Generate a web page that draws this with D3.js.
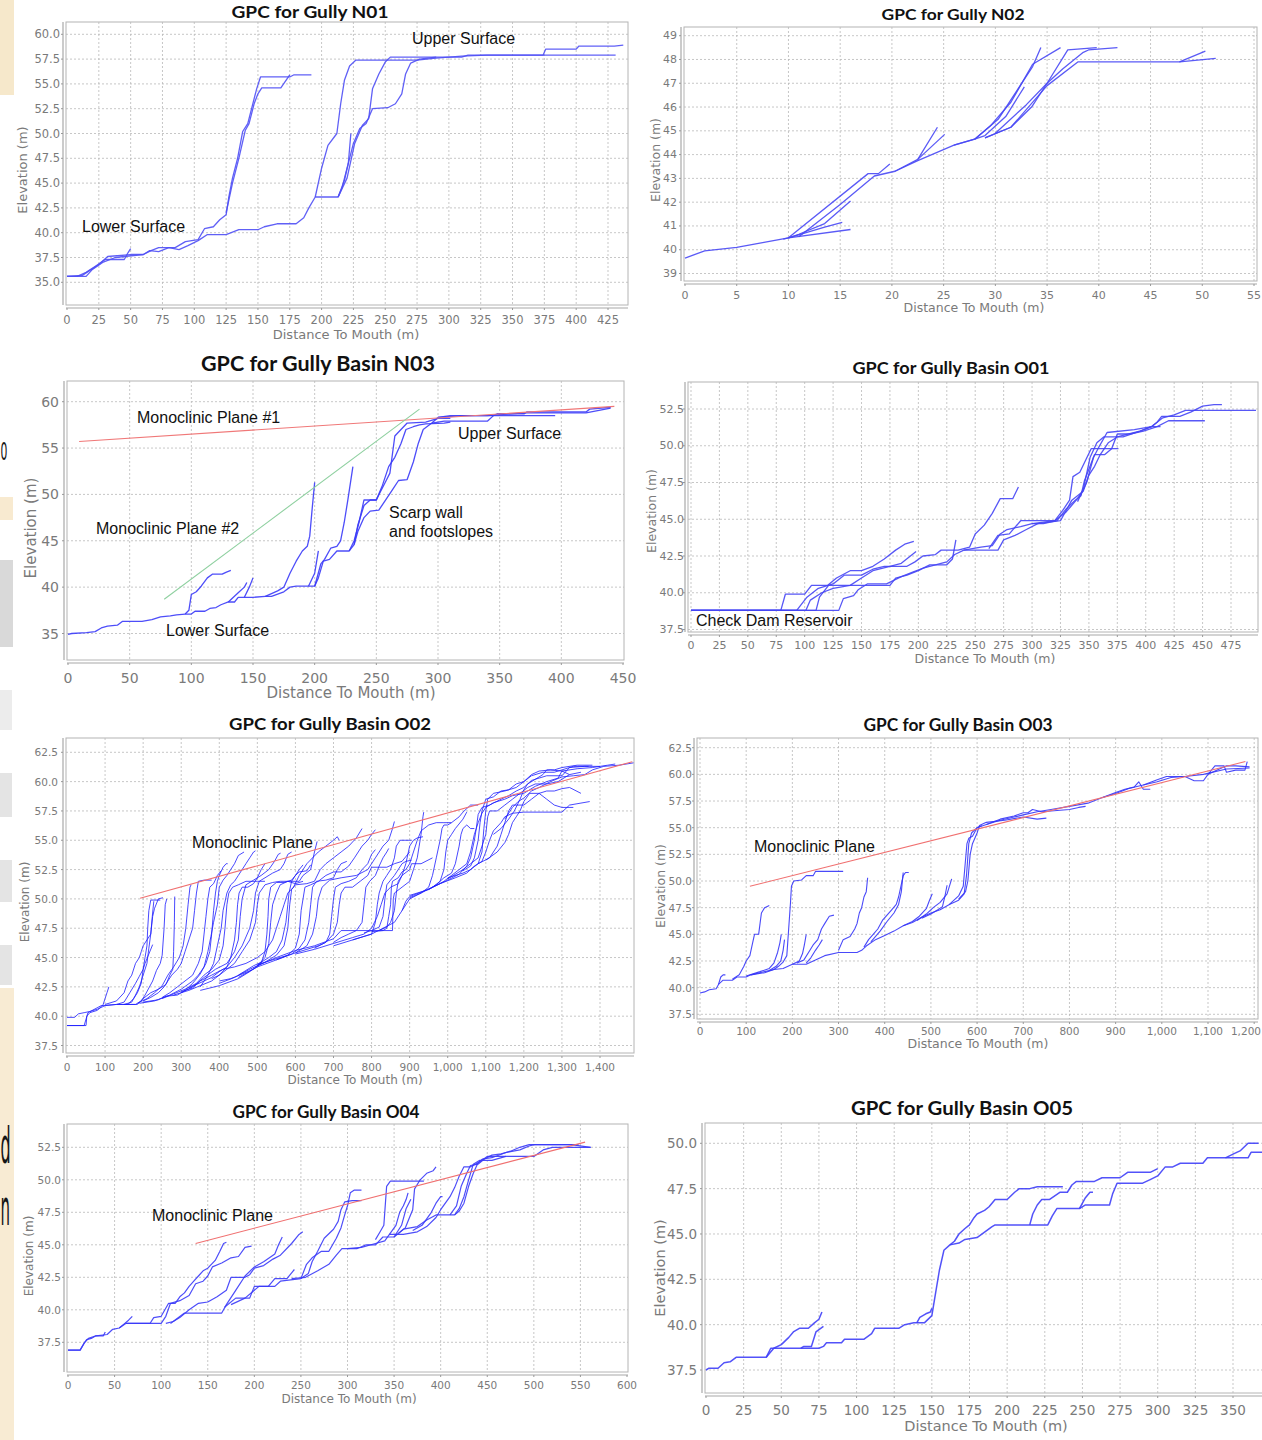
<!DOCTYPE html>
<html><head><meta charset="utf-8">
<script src="https://cdn.jsdelivr.net/npm/d3@7"></script>
<style>body{margin:0;background:#fff}svg{display:block}</style>
</head><body>
<svg id="c" width="1262" height="1440"></svg>
<script>
// ---------------- DATA ----------------
// Gully N01
const n01XTicks = [0,25,50,75,100,125,150,175,200,225,250,275,300,325,350,375,400,425];
const n01YTicks = [35,37.5,40,42.5,45,47.5,50,52.5,55,57.5,60];
const n01Series = [
 [[0,35.6],[8,35.6],[15,36.0],[22,36.6],[30,37.3],[45,37.3],[48,38.0],[50,38.4]],
 [[0,35.6],[12,35.7],[18,36.2],[25,36.8],[32,37.6],[50,37.8],[60,37.8],[66,38.2],[72,38.5],[85,38.5],[93,39.1],[103,39.3],[108,40.4],[115,40.6],[120,41.3],[125,41.8],[127,43.5],[130,45.5],[134,47.5],[138,50.2],[142,51.0],[145,52.5],[149,54.5],[152,55.7],[175,55.7],[178,55.9],[192,55.9]],
 [[125,42.0],[130,45.0],[135,47.5],[140,50.3],[143,51.0],[147,53.0],[150,54.0],[153,54.6],[168,54.6],[175,55.9]],
 [[0,35.6],[15,35.6],[20,36.3],[28,37.0],[38,37.5],[45,37.6],[60,37.8],[65,38.2],[72,38.1],[80,38.5],[88,38.3],[95,38.7],[103,39.2],[110,39.8],[125,39.8],[135,40.3],[150,40.3],[155,40.6],[165,40.9],[180,40.9],[186,41.5],[190,42.5],[195,43.6],[213,43.6],[216,44.5],[219,46.0],[222,47.5],[225,49.0],[230,50.5],[235,51.0],[240,52.5],[252,52.6],[258,53.0],[263,54.0],[266,56.0],[270,57.1],[277,57.5],[290,57.7],[310,57.7],[315,57.9],[330,57.9],[375,57.9],[400,57.9],[431,57.9]],
 [[195,43.6],[200,46.5],[205,48.8],[212,50.0],[215,53.0],[218,55.4],[222,56.8],[227,57.4],[255,57.4],[275,57.4],[290,57.6],[310,57.8],[330,57.9],[374,57.9],[376,58.5],[400,58.5],[402,58.8],[430,58.8],[437,58.9]],
 [[213,43.6],[218,45.3],[221,47.0],[223,50.0]],
 [[213,43.6],[220,45.5],[226,49.0],[232,50.8],[237,51.5],[240,54.5],[245,56.0],[250,57.2],[254,57.7],[265,57.7],[290,57.7]]
];

// Gully N02
const n02XTicks = [0,5,10,15,20,25,30,35,40,45,50,55];
const n02YTicks = [39,40,41,42,43,44,45,46,47,48,49];
const n02Series = [
 [[0,39.65],[1.9,39.95],[5,40.1],[7.5,40.3],[10,40.5],[16,40.85]],
 [[9.5,40.45],[10,40.5],[13.5,40.95],[15.2,41.15]],
 [[10,40.5],[11,40.65],[13.5,41.1],[16,42.05]],
 [[10,40.5],[17.7,43.2],[18.7,43.2],[19.8,43.6]],
 [[11,40.55],[15,41.9],[18.3,43.1],[20.3,43.3],[22.5,43.8],[24.4,45.15]],
 [[20.3,43.3],[22.5,43.75],[26,44.4],[28,44.65],[30.3,45.5],[31.2,46.1],[33.6,47.7],[34.4,48.5]],
 [[22.5,43.8],[25.1,44.85]],
 [[26,44.4],[28,44.65],[29,44.8],[31,45.6],[32.8,46.85]],
 [[28,44.65],[29.5,45.2],[31.5,46.2],[33.6,47.8],[36.3,48.5]],
 [[29,44.7],[31.5,45.15],[33.5,46.0],[35,47.0],[37,48.4],[39.8,48.5]],
 [[30,44.9],[33,46.1],[35,47.0],[36.5,47.6],[38.5,48.3],[39,48.4],[41.8,48.5]],
 [[29,44.7],[31.5,45.15],[35,46.9],[38,47.9],[47.8,47.9],[50.3,48.35]],
 [[47.8,47.9],[51.3,48.05]]
];

// Gully Basin N03
const n03XTicks = [0,50,100,150,200,250,300,350,400,450];
const n03YTicks = [35,40,45,50,55,60];
const n03Series = [
 [[0,34.9],[3,35.0],[15,35.1],[22,35.2],[27,35.6],[32,35.8],[40,35.9],[44,36.3],[60,36.3],[68,36.5],[75,36.8],[83,36.9],[88,37.0],[95,37.1],[100,37.1],[103,37.4],[111,37.4],[115,37.7],[120,37.8],[124,38.1],[130,38.4],[135,38.4],[138,38.9],[150,38.9],[160,39.0],[165,39.0],[175,39.5],[180,40.0],[185,40.1],[200,40.1],[203,41.0],[207,42.8],[212,43.0],[218,43.9],[228,43.9],[232,44.6],[235,46.7],[240,48.8],[245,49.4],[250,49.4],[253,50.2],[258,51.5],[261,52.3],[265,56.3],[270,57.0],[275,57.7],[290,57.8],[300,58.2],[310,58.2]],
 [[95,37.1],[98,37.5],[100,39.2],[104,39.5],[108,40.1],[113,41.0],[117,41.4],[125,41.4],[128,41.6],[132,41.8]],
 [[130,38.4],[138,39.4],[143,40.0],[145,40.5]],
 [[143,38.9],[147,40.0],[150,41.0]],
 [[160,39.0],[170,39.6],[175,40.0],[180,41.5],[185,42.8],[190,43.9],[194,44.4],[196,45.5],[198,48.5],[200,51.3]],
 [[195,40.1],[200,41.5],[203,43.9]],
 [[200,40.1],[205,42.5],[208,43.0],[213,44.2],[218,44.4],[221,45.0],[224,47.0],[227,49.5],[231,53.0]],
 [[228,43.9],[232,45.0],[236,47.0],[240,49.4],[250,49.4],[255,51.0],[260,53.0],[265,54.0],[270,55.5],[274,57.0],[280,57.3],[285,57.5],[290,57.6],[305,57.7],[310,57.8]],
 [[232,44.6],[235,46.0],[240,47.5],[245,48.2],[252,48.3],[258,49.5],[263,50.5],[268,51.5],[275,51.6],[280,53.5],[284,55.5],[288,57.0],[295,57.7],[300,58.3],[320,58.5],[345,58.5],[348,58.7],[370,58.7],[372,58.9],[420,58.9],[423,59.2],[440,59.4]],
 [[295,57.7],[305,57.9],[330,57.9],[340,57.9],[345,58.5],[395,58.5]],
 [[300,58.3],[310,58.5],[340,58.5],[350,58.6],[370,58.8],[420,58.8],[440,59.3]]
];
const n03Plane1 = [[9,55.7],[443,59.5]];
const n03Plane2 = [[78,38.7],[285,59.2]];

// Gully Basin O01
const o01XTicks = [0,25,50,75,100,125,150,175,200,225,250,275,300,325,350,375,400,425,450,475];
const o01YTicks = [37.5,40,42.5,45,47.5,50,52.5];
const o01Series = [
 [[0,38.8],[79,38.8],[83,39.9],[100,39.9],[106,40.5],[120,40.5],[128,41.0],[140,41.5],[150,41.5],[160,41.8],[170,42.3],[180,42.9],[188,43.3],[196,43.5]],
 [[0,38.8],[93,38.8],[102,39.7],[112,40.3],[125,40.6],[135,41.2],[150,41.2],[160,41.6],[170,41.8],[190,41.8],[197,42.1],[204,42.5],[215,42.6],[220,42.9],[235,42.9],[245,43.1],[250,44.0],[258,44.6],[265,45.4],[272,46.4],[283,46.4],[288,47.2]],
 [[0,38.8],[101,38.8],[105,39.5],[115,40.0],[125,40.3],[140,40.5],[150,41.0],[160,41.5],[175,41.8],[185,42.0],[198,42.8]],
 [[0,38.8],[110,38.8],[113,39.7],[121,40.5],[175,40.5],[180,41.0],[190,41.2],[200,41.5],[210,41.9],[225,41.9],[230,42.3],[233,43.6]],
 [[0,38.8],[130,38.8],[134,39.6],[143,39.8],[147,40.2],[155,40.6],[172,40.6],[185,41.1],[195,41.4],[205,41.7],[215,41.9],[225,42.1],[232,42.6],[240,42.9],[270,42.9],[275,43.6],[285,43.9],[295,44.3],[305,44.7],[325,44.9],[330,45.6],[335,46.3],[340,46.6],[345,46.9],[350,48.0],[355,48.6],[360,49.4],[367,50.2],[375,50.6],[385,50.8],[395,51.0],[405,51.3],[413,51.3]],
 [[240,42.9],[255,43.1],[265,43.2],[272,44.0],[278,44.3],[290,44.5],[300,44.7],[310,44.7],[322,44.9],[330,45.7],[338,46.3],[343,46.6],[346,47.6],[351,48.6],[355,49.4],[364,49.4],[370,49.8],[375,50.8],[386,50.8],[398,51.0],[410,51.3],[420,51.7],[452,51.7]],
 [[262,43.0],[270,43.9],[280,44.0],[290,44.9],[320,44.9],[327,45.6],[333,46.3],[336,47.9],[342,48.2],[347,49.0],[352,49.8],[362,49.8],[376,49.8]],
 [[300,44.7],[320,44.9],[330,45.5],[340,46.4],[345,47.0],[351,49.2],[357,50.2],[363,50.6],[380,50.6],[395,51.0],[405,51.3],[410,51.6],[414,52.0],[430,52.0],[440,52.3],[450,52.7],[460,52.8],[467,52.8]],
 [[340,46.2],[348,47.5],[354,49.2],[358,49.8],[366,50.9],[390,51.1],[405,51.3],[415,51.9],[425,52.1],[435,52.4],[497,52.4]]
];

// Gully Basin O02
const o02XTicks = [0,100,200,300,400,500,600,700,800,900,1000,1100,1200,1300,1400];
const o02YTicks = [37.5,40,42.5,45,47.5,50,52.5,55,57.5,60,62.5];
const o02Series = [
 [[0,39.2],[50,39.2],[52,40.0],[60,40.3],[80,40.5],[95,41.0],[100,41.5],[105,42.0],[110,42.5]],
 [[0,39.9],[20,39.9],[30,40.2],[45,40.3],[60,40.4],[80,40.6],[100,40.9],[130,41.0],[150,41.2],[165,42.0],[180,42.8],[190,43.4],[200,44.0],[205,44.5],[215,45.3],[225,46.1]],
 [[0,39.2],[45,39.2],[55,40.3],[90,40.9],[130,41.0],[180,41.0],[195,41.3],[205,41.8],[215,42.4],[225,43.0],[235,43.9],[245,44.5],[250,45.2],[255,47.5],[258,49.5],[262,50.0]],
 [[150,41.0],[185,41.0],[200,41.5],[220,42.0],[240,42.3],[260,42.7],[270,43.5],[278,44.0],[280,45.5],[282,48.0],[283,50.2]],
 [[185,41.1],[210,41.5],[230,42.0],[250,42.6],[265,43.5],[280,44.2],[295,45.0],[305,46.0],[312,47.5],[318,49.5],[323,51.0],[326,51.2]],
 [[200,41.2],[240,41.4],[260,41.7],[290,41.8],[310,42.2],[330,42.8],[350,43.6],[365,44.5],[375,45.5],[380,47.0],[385,49.0],[390,50.5],[395,51.5],[400,52.0],[410,52.7],[418,53.0],[422,53.0]],
 [[190,41.1],[230,41.3],[270,41.8],[300,42.3],[330,43.0],[345,43.5],[360,44.2],[370,45.5],[378,46.8],[385,48.0],[395,49.5],[400,51.0],[410,51.6],[420,52.0],[430,52.5],[440,53.0],[450,53.7],[465,54.0]],
 [[250,41.5],[280,41.9],[310,42.3],[340,42.8],[360,43.5],[380,44.0],[400,44.8],[410,46.0],[415,47.5],[420,49.5],[425,50.5],[435,51.0],[450,51.2],[470,51.5],[500,51.5],[520,51.5]],
 [[300,42.0],[330,42.5],[360,43.3],[390,44.0],[420,44.5],[440,45.5],[450,46.5],[455,48.5],[460,50.0],[470,51.2],[490,51.6],[510,52.0],[530,52.5],[545,53.2],[555,53.8],[561,53.9]],
 [[350,42.2],[400,42.6],[450,43.2],[480,43.8],[500,44.3],[520,45.0],[530,46.2],[535,48.0],[540,49.5],[550,50.5],[560,51.2],[580,51.5],[610,51.5],[620,52.0],[640,52.5],[650,54.0],[657,54.9]],
 [[400,42.8],[440,43.3],[480,44.0],[520,44.6],[550,45.2],[570,46.0],[580,47.5],[585,49.5],[590,50.8],[600,51.2],[630,51.3],[650,51.5],[665,52.5],[680,53.0],[700,53.5],[720,54.0],[740,54.5],[760,55.2],[775,56.0]],
 [[450,43.3],[500,44.2],[550,44.8],[600,45.4],[630,46.0],[645,47.0],[655,48.5],[660,50.0],[670,51.0],[690,51.6],[720,51.8],[760,52.0],[790,52.5],[810,53.5],[830,54.5],[845,55.0],[855,56.0],[860,56.6]],
 [[500,44.3],[550,45.0],[600,45.6],[650,46.0],[700,46.6],[720,47.3],[760,47.3],[800,47.3],[820,47.3],[855,47.3],[857,50.0],[860,50.5],[880,51.0],[900,51.5],[910,52.5],[920,53.5],[925,54.5],[930,55.5],[935,57.0],[937,57.4]],
 [[600,45.3],[650,45.7],[700,46.2],[750,46.7],[780,47.0],[800,47.5],[815,48.5],[825,49.5],[835,50.5],[850,51.0],[870,51.3],[880,52.0],[900,52.5],[905,53.0],[930,53.0],[960,53.5]],
 [[700,46.0],[750,46.5],[800,47.0],[830,47.5],[860,48.0],[880,49.0],[890,49.8],[900,50.2],[940,50.7],[980,51.3],[1020,51.8],[1050,52.2],[1070,52.8],[1090,53.2],[1100,54.0],[1110,55.0],[1120,55.8],[1140,56.5],[1150,57.0],[1170,57.3],[1200,57.4],[1250,57.4],[1300,57.4],[1320,58.0],[1373,58.3]],
 [[900,50.3],[950,50.8],[990,51.5],[1010,52.0],[1030,52.5],[1050,53.0],[1060,54.0],[1070,55.5],[1080,56.5],[1090,57.3],[1100,57.8],[1120,58.2],[1150,58.5],[1170,58.8],[1200,59.0],[1230,59.6],[1260,60.0],[1290,60.3],[1300,60.9],[1340,61.1],[1380,61.2],[1420,61.4],[1440,61.5]],
 [[960,51.0],[1000,51.6],[1030,52.1],[1050,52.8],[1060,53.5],[1070,55.0],[1075,56.0],[1080,57.2],[1090,57.8],[1110,58.0],[1140,58.5],[1160,58.8],[1180,59.2],[1200,59.5],[1220,60.1],[1240,60.3],[1260,60.5],[1300,60.5],[1320,61.2],[1360,61.3],[1400,61.3]],
 [[1000,51.7],[1040,52.5],[1060,53.0],[1080,53.5],[1090,54.5],[1100,55.5],[1105,57.0],[1110,57.5],[1130,57.5],[1150,58.0],[1170,58.5],[1190,59.0],[1210,59.5],[1230,59.8],[1260,59.8],[1290,60.0],[1320,60.6],[1350,60.8]],
 [[1080,53.0],[1110,53.5],[1130,54.5],[1140,55.5],[1150,56.5],[1160,57.5],[1170,58.0],[1200,58.0],[1220,58.5],[1240,59.0],[1260,59.2],[1280,59.2],[1300,59.4],[1320,59.5],[1350,59.0]],
 [[1150,56.8],[1170,57.8],[1185,58.3],[1200,58.6],[1220,59.2],[1240,59.5],[1270,60.0],[1300,60.4],[1330,60.5],[1360,60.6],[1380,61.0],[1410,61.3],[1450,61.4],[1488,61.6]],
 [[550,44.8],[580,45.2],[600,45.8],[610,47.0],[615,49.0],[620,50.0],[625,51.0],[640,51.2],[660,51.5],[680,52.0],[700,52.3],[720,52.3],[740,52.8],[755,53.5],[765,54.0],[775,54.5],[790,55.0],[800,55.5],[810,55.9]],
 [[650,45.8],[680,46.3],[700,47.0],[710,48.0],[715,49.5],[720,50.5],[730,51.0],[750,51.0],[770,51.5],[790,52.0],[800,52.7],[820,52.7],[840,52.7],[860,53.0],[880,53.2],[900,54.0]],
 [[750,46.5],[780,46.8],[800,47.0],[810,48.0],[815,49.5],[820,50.5],[830,51.5],[840,52.0],[850,52.5],[860,53.5],[865,54.5],[875,55.0],[905,55.0]],
 [[800,47.2],[830,47.3],[840,47.5],[845,48.5],[850,49.5],[852,51.0],[855,51.5],[870,51.8],[880,52.3],[890,52.5],[900,53.0],[910,54.0],[920,55.0],[930,55.8],[950,56.3],[970,56.5],[990,56.5],[1010,56.5]],
 [[880,49.0],[900,50.0],[930,50.5],[960,51.0],[980,51.5],[990,52.5],[995,54.0],[1000,55.0],[1010,55.5],[1020,56.0],[1040,56.8],[1050,57.4]],
 [[280,41.8],[320,42.2],[350,42.6],[380,43.0],[400,43.5],[420,44.0],[440,44.5],[460,45.5],[480,46.5],[495,48.0],[500,49.5],[505,50.5],[520,51.2],[540,51.4],[560,51.5],[580,51.5],[600,51.3],[620,51.5]],
 [[300,42.1],[330,42.4],[350,43.0],[380,43.5],[410,44.0],[440,44.2],[470,44.5],[500,45.0],[520,45.5],[540,46.5],[550,47.5],[560,48.5],[570,49.5],[580,50.5],[595,51.0],[610,52.0],[630,53.0],[645,53.5],[660,54.0],[680,54.5],[700,55.0],[710,55.3],[715,55.0]],
 [[100,41.0],[130,41.3],[150,42.0],[160,43.0],[170,43.5],[180,44.5],[190,45.0],[195,45.5],[200,46.0],[210,46.5],[220,47.0],[225,48.5],[230,49.2],[240,50.0],[252,50.1]],
 [[350,42.5],[370,43.5],[385,44.5],[395,46.0],[405,47.5],[410,49.0],[420,50.5],[430,51.2],[440,51.5],[450,52.0],[460,52.5],[470,53.0],[480,53.5],[490,54.0],[495,54.1]],
 [[380,43.2],[400,43.5],[420,44.2],[440,45.0],[460,46.0],[480,47.5],[490,49.0],[495,50.5],[505,51.5],[520,51.8],[540,52.2],[560,52.5],[570,53.0],[580,53.8],[590,54.0]],
 [[1000,51.8],[1040,52.2],[1060,52.5],[1080,53.0],[1090,54.0],[1095,56.0],[1100,57.5],[1105,58.5],[1120,59.0],[1150,59.2],[1180,59.5],[1200,60.0],[1220,60.5],[1250,60.8],[1280,60.8],[1300,61.0],[1330,61.3],[1370,61.3]],
 [[1100,53.3],[1130,54.0],[1150,54.8],[1160,55.5],[1170,56.5],[1180,57.0],[1190,57.5],[1200,58.3],[1215,59.0],[1240,59.0],[1260,58.5],[1280,58.0],[1300,57.8],[1330,57.8]],
 [[900,50.1],[930,50.5],[950,51.0],[960,52.0],[970,53.5],[980,55.0],[985,56.0],[990,56.3],[1000,56.3],[1010,56.5],[1030,57.0],[1040,57.4],[1060,58.0],[1080,58.0]],
 [[150,41.0],[170,41.2],[180,41.8],[190,42.5],[200,43.5],[210,44.5],[215,45.8],[220,47.0],[224,48.5],[228,49.8]],
 [[200,41.3],[220,41.6],[240,42.0],[255,42.5],[265,43.0],[275,43.5],[290,44.0],[300,44.5],[310,45.5],[320,46.5],[330,47.5],[335,49.0],[340,50.5],[345,51.5],[360,51.6],[380,51.6]],
 [[250,41.6],[270,42.0],[290,42.5],[310,43.0],[330,43.5],[345,44.5],[355,45.5],[360,47.0],[365,48.5],[370,50.0],[375,51.0],[385,51.3],[395,52.0],[405,52.4]],
 [[320,42.4],[340,42.7],[360,43.0],[380,43.3],[400,43.8],[420,44.2],[430,45.0],[440,46.5],[445,48.0],[448,49.5],[452,50.5],[460,51.0],[475,51.0],[490,51.3],[500,51.8],[510,52.5],[520,53.0]],
 [[400,43.0],[430,43.2],[460,43.6],[490,44.0],[510,44.5],[520,45.5],[525,47.0],[528,48.5],[530,50.0],[535,51.0],[550,51.4],[570,51.4],[590,51.6],[600,52.0],[610,52.5],[620,52.9]],
 [[450,43.5],[470,43.9],[490,44.3],[510,44.6],[530,45.0],[550,45.5],[565,46.5],[575,48.0],[580,49.5],[583,50.5],[590,51.5],[600,52.0],[610,52.3],[630,52.4],[640,52.9]],
 [[500,44.4],[530,44.7],[560,45.0],[590,45.3],[610,45.8],[625,46.5],[635,48.0],[640,49.5],[645,51.0],[655,51.5],[680,51.6],[700,51.8],[710,52.5],[720,53.0],[735,53.2]],
 [[600,45.4],[630,45.7],[660,46.0],[680,46.3],[690,47.0],[695,48.5],[700,50.0],[705,51.0],[720,51.3],[740,51.5],[760,51.8],[775,52.5],[790,53.0],[800,53.8],[810,54.2]],
 [[700,46.3],[720,46.7],[740,47.0],[760,47.3],[775,48.0],[780,49.5],[785,51.0],[795,51.5],[810,52.0],[820,52.8],[830,53.5],[840,54.0],[845,54.3]],
 [[780,47.1],[800,47.3],[820,47.6],[830,48.5],[835,50.0],[840,51.2],[850,51.6],[860,52.0],[870,52.5],[880,53.0],[890,53.2],[905,53.3]],
 [[820,47.3],[840,47.6],[850,48.0],[860,49.0],[865,50.5],[870,51.5],[880,52.0],[890,53.0],[900,54.5],[910,55.0],[920,55.2],[935,55.3]],
 [[950,50.8],[970,51.2],[990,51.8],[1010,52.2],[1020,53.0],[1030,54.5],[1035,55.5],[1040,56.0],[1050,56.3],[1060,56.0],[1070,56.0]],
 [[1040,52.4],[1060,52.8],[1070,53.5],[1080,55.0],[1085,56.5],[1090,57.5],[1095,58.0],[1100,58.5],[1120,58.7],[1140,59.2],[1160,59.3],[1180,59.8],[1200,60.0],[1220,60.6],[1240,60.9],[1270,61.0],[1300,60.9],[1320,60.6]],
 [[1120,55.5],[1140,56.0],[1160,56.8],[1175,57.5],[1190,58.5],[1200,59.3],[1210,59.8],[1230,60.2],[1250,60.6],[1260,61.0],[1280,61.0],[1300,61.2],[1340,61.4],[1380,61.4]],
 [[130,41.0],[160,41.0],[175,41.5],[185,42.0],[195,42.8],[200,44.0],[205,45.0],[210,46.0],[212,47.5],[215,49.0],[220,49.9],[245,49.9]]
];
const o02Plane = [[192,50.05],[1485,61.7]];

// Gully Basin O03
const o03XTicks = [0,100,200,300,400,500,600,700,800,900,1000,1100,1200];
const o03YTicks = [37.5,40,42.5,45,47.5,50,52.5,55,57.5,60,62.5];
const o03Series = [
 [[0,39.5],[10,39.6],[20,39.8],[35,39.9],[40,40.3],[50,40.7],[70,40.7],[80,41.0],[100,41.0],[110,41.2],[140,41.4],[160,41.7],[180,41.8],[200,42.2],[230,42.2],[250,42.6],[270,43.0],[300,43.3],[340,43.3],[350,43.5],[360,43.9],[380,44.5],[400,44.9],[420,45.3],[440,45.8],[460,46.1],[480,46.6],[500,47.0],[520,47.3],[540,47.8],[560,48.2],[572,48.8],[577,50.5],[582,53.5],[588,54.5],[600,55.0],[620,55.3],[650,55.7],[680,56.0],[700,56.2],[730,56.5],[760,56.7],[800,57.0],[840,57.3],[870,57.8],[900,58.2],[930,58.7],[960,59.0],[990,59.3],[1020,59.7],[1050,59.8],[1090,60.0],[1140,60.5],[1190,60.6]],
 [[40,40.3],[45,41.0],[50,41.2],[55,41.2]],
 [[70,40.8],[85,41.2],[95,42.0],[100,42.5],[108,43.0],[113,44.0],[118,45.0],[127,45.0],[130,46.0],[133,47.0],[140,47.5],[150,47.7]],
 [[100,41.1],[130,41.5],[150,41.8],[160,42.3],[168,43.3],[173,44.2],[176,45.0]],
 [[110,41.2],[140,41.5],[160,41.7],[170,42.0],[180,42.4],[188,43.0],[192,45.5],[196,48.0],[198,49.5],[203,50.0],[220,50.1],[230,50.5],[245,50.5],[250,50.9],[270,50.9],[310,50.9]],
 [[150,41.6],[165,42.0],[175,42.5],[180,43.5],[183,44.5]],
 [[200,42.2],[215,42.5],[222,43.2],[226,44.0],[230,45.0]],
 [[210,42.3],[225,42.6],[235,43.3],[245,44.0],[255,44.5],[263,45.5],[270,46.0],[280,46.7],[290,46.8]],
 [[230,42.3],[240,42.8],[250,43.5],[258,44.0],[265,44.5]],
 [[300,43.5],[310,44.5],[325,44.8],[335,45.5],[340,46.0],[345,47.0],[350,47.5],[355,48.5],[360,49.0],[363,50.3]],
 [[355,43.8],[365,44.5],[375,45.0],[385,45.5],[395,46.3],[405,46.8],[415,47.3],[425,47.8],[430,48.5],[435,49.5],[440,50.5],[445,50.8],[452,50.8]],
 [[370,44.3],[390,45.3],[405,46.2],[420,47.0],[430,47.8],[436,49.0],[440,50.8]],
 [[440,45.8],[460,46.2],[475,46.7],[490,47.4],[497,48.2],[503,48.8]],
 [[470,46.3],[490,46.9],[505,47.5],[520,48.0],[535,48.8],[540,49.5],[545,50.2]],
 [[480,46.5],[500,46.9],[515,47.3],[525,47.6],[530,48.5],[535,49.6]],
 [[540,47.8],[560,48.6],[570,49.5],[574,51.5],[578,53.5],[582,54.0],[590,54.2],[600,55.0],[610,55.2]],
 [[560,48.3],[575,49.0],[580,50.0],[585,52.5],[590,53.5],[600,54.5],[605,55.2],[620,55.5],[660,55.7],[700,56.0],[730,55.8],[750,55.9]],
 [[620,55.3],[650,55.8],[680,56.1],[700,56.4],[710,56.4],[720,56.7],[740,56.5],[800,56.7],[820,56.9],[835,57.0]],
 [[870,57.8],[900,58.3],[920,58.6],[940,58.8],[950,59.3],[960,58.6],[975,58.6]],
 [[960,59.0],[990,59.5],[1010,59.8],[1050,59.8],[1070,59.4],[1090,59.4],[1100,60.0],[1120,60.4],[1140,60.8],[1160,60.8],[1190,60.7]],
 [[1100,60.0],[1115,60.8],[1135,60.8],[1140,60.2],[1160,60.4],[1180,60.4],[1185,61.2]]
];
const o03Plane = [[108,49.5],[1181,61.2]];

// Gully Basin O04
const o04XTicks = [0,50,100,150,200,250,300,350,400,450,500,550,600];
const o04YTicks = [37.5,40,42.5,45,47.5,50,52.5];
const o04Series = [
 [[0,36.9],[13,36.9],[17,37.4],[20,37.7],[25,37.8],[30,38.0],[38,38.0],[40,38.3]],
 [[0,36.9],[13,36.9],[18,37.5],[22,37.8],[30,38.0],[42,38.1],[48,38.5],[55,38.6],[60,38.9],[65,39.2],[69,39.5]],
 [[55,38.6],[62,38.95],[88,38.95],[92,39.4],[100,39.5],[108,40.5],[115,40.5],[120,41.0],[125,41.3],[130,41.8],[135,42.2],[140,42.6],[145,43.0],[150,43.2],[158,43.8],[163,44.5],[167,45.1],[170,45.2]],
 [[62,38.95],[100,38.95],[105,39.5],[110,40.5],[120,40.7],[130,41.1],[137,42.0],[145,42.2],[150,42.6],[155,43.3],[165,43.6],[175,44.0],[183,44.1],[190,44.8],[197,44.9]],
 [[105,38.95],[113,39.1],[120,39.4],[130,40.0],[140,40.5],[150,40.6],[160,41.0],[170,41.5],[175,42.5],[190,42.5],[195,42.7],[200,43.2],[210,43.4],[220,43.9],[228,44.2],[240,45.1],[248,45.8],[252,46.0]],
 [[110,38.95],[125,39.75],[165,39.75],[170,40.4],[180,41.5],[190,42.6],[200,43.3],[210,43.7],[222,44.3],[226,45.0],[230,45.6]],
 [[168,40.2],[180,40.9],[195,40.9],[200,41.8],[215,41.8],[222,42.4],[235,42.4],[243,43.1]],
 [[175,40.4],[190,40.9],[205,41.8],[222,41.8],[228,42.2],[250,42.4],[258,42.8],[262,43.7],[268,44.5],[275,45.5],[285,46.2],[290,46.8],[293,47.7],[297,48.3],[305,48.4],[315,48.4]],
 [[250,42.4],[256,43.5],[262,44.0],[272,44.5],[280,44.5],[288,45.5],[293,46.3],[297,47.3],[300,48.0],[303,49.0],[307,49.2],[315,49.2]],
 [[240,42.4],[255,42.5],[268,43.0],[280,43.5],[288,44.2],[294,44.7],[310,44.7],[320,45.0],[330,45.0],[338,45.6],[350,45.6],[360,46.2],[375,46.4],[385,46.9],[395,47.3],[415,47.3],[420,47.6],[425,48.2],[430,49.5],[435,50.5],[440,51.3],[445,51.6],[455,51.7],[470,52.1],[485,52.3],[495,52.6],[500,52.7],[540,52.7],[561,52.5]],
 [[300,44.7],[315,44.8],[330,45.1],[340,45.3],[345,45.8],[360,45.8],[375,46.0],[385,46.4],[395,47.1],[400,47.7],[410,48.7],[415,49.4],[420,50.3],[425,51.0],[432,51.0],[440,51.3],[450,51.8],[500,51.8],[510,52.3],[520,52.5],[561,52.5]],
 [[330,45.4],[335,46.0],[339,46.5],[342,49.5],[346,49.9],[365,49.9],[382,49.9]],
 [[345,45.8],[352,46.5],[356,47.5],[360,48.0],[363,48.5],[365,49.0]],
 [[355,45.9],[362,46.3],[366,47.0],[370,47.7],[372,49.3],[378,50.0],[385,50.5],[392,50.7],[395,51.0]],
 [[370,46.1],[380,46.5],[385,47.0],[390,47.5],[395,48.2],[400,48.7],[402,48.7]],
 [[410,47.3],[417,48.0],[422,49.5],[428,50.5],[432,51.1],[440,51.2],[447,51.6],[455,51.9],[465,52.0],[475,52.2],[485,52.5],[495,52.7],[548,52.7]],
 [[415,47.3],[420,47.8],[425,48.7],[430,50.0],[435,51.2],[442,51.5],[455,51.5],[470,51.8]],
 [[350,45.6],[358,46.5],[363,47.8],[368,48.5]]
];
const o04Plane = [[137,45.1],[555,52.9]];

// Gully Basin O05
const o05XTicks = [0,25,50,75,100,125,150,175,200,225,250,275,300,325,350];
const o05YTicks = [37.5,40,42.5,45,47.5,50];
const o05Series = [
 [[0,37.5],[2,37.6],[8,37.6],[12,37.9],[16,37.95],[20,38.2],[40,38.2],[43,38.7],[75,38.7],[78,38.8],[80,39.0],[90,39.0],[92,39.2],[105,39.2],[110,39.5],[112,39.8],[128,39.8],[132,40.0],[138,40.1],[145,40.1],[150,40.5],[152,41.5],[155,43.0],[158,44.1],[162,44.4],[168,44.5],[172,44.7],[180,44.8],[185,45.1],[190,45.4],[192,45.5],[215,45.5],[227,45.5],[230,46.0],[233,46.4],[248,46.4],[252,46.6],[268,46.6],[270,47.2],[273,47.8],[290,47.8],[295,48.0],[300,48.2],[305,48.7],[310,48.7],[315,48.9],[330,48.9],[333,49.2],[345,49.2],[360,49.2],[362,49.5],[370,49.5],[375,49.7]],
 [[40,38.2],[45,38.7],[50,38.9],[55,39.3],[58,39.6],[62,39.8],[68,39.8],[72,40.1],[75,40.3],[77,40.7]],
 [[63,38.7],[65,38.8],[70,38.8],[73,39.6],[78,39.9]],
 [[140,40.1],[142,40.4],[146,40.6],[149,40.7],[150,40.9]],
 [[162,44.4],[165,44.6],[168,45.0],[172,45.3],[175,45.5],[178,45.9],[180,46.1],[185,46.3],[188,46.5],[192,46.9],[200,46.9],[205,47.3],[208,47.5],[215,47.5],[220,47.6],[237,47.6]],
 [[215,45.5],[217,46.1],[220,46.6],[223,46.9],[228,46.9],[235,47.3],[240,47.3],[243,47.7],[246,47.9],[258,47.9],[263,48.1],[275,48.1],[280,48.4],[295,48.4],[300,48.6]],
 [[248,46.4],[252,47.0],[255,47.3],[257,47.3]],
 [[345,49.2],[350,49.4],[355,49.6],[360,50.0],[367,50.0]]
];

// ---------------- LAYOUT ----------------
const fmt1 = d3.format(".1f"), fmt0 = d3.format("d"), fmtC = d3.format(",");
const panels = [
 {title:"GPC for Gully N01", tx:310, ty:18, tsize:17, tlen:157,
  rect:[66,22,628,305], xm:[0,67,425,608], ym:[35,282.3,60,34.3],
  xTicks:n01XTicks, yTicks:n01YTicks, xf:fmt0, yf:fmt1, ts:11.5, yLabR:60, xLabY:320,
  xT:[346,334], yT:[22,170], as:13, series:n01Series, planes:[],
  labels:[{t:"Upper Surface",x:412,y:38},{t:"Lower Surface",x:82,y:226}], lw:1.3, col:"#4f4ff5"},
 {title:"GPC for Gully N02", tx:953, ty:20, tsize:16, tlen:143,
  rect:[684,27,1257,281], xm:[0,685,55,1254], ym:[39,273.5,49,35.7],
  xTicks:n02XTicks, yTicks:n02YTicks, xf:fmt0, yf:fmt0, ts:11, yLabR:677, xLabY:295,
  xT:[974,307], yT:[655,160], as:12.5, series:n02Series, planes:[], labels:[], lw:1.3, col:"#4848f5"},
 {title:"GPC for Gully Basin N03", tx:318, ty:371, tsize:21, tlen:234,
  rect:[67,381,624,660], xm:[0,68,450,623], ym:[35,633.5,60,401.7],
  xTicks:n03XTicks, yTicks:n03YTicks, xf:fmt0, yf:fmt0, ts:14, yLabR:59, xLabY:678,
  xT:[351,693], yT:[31,528], as:15, series:n03Series,
  planes:[{p:n03Plane1,c:"#f07878"},{p:n03Plane2,c:"#8fd0a0"}],
  labels:[{t:"Monoclinic Plane #1",x:137,y:417},{t:"Upper Surface",x:458,y:433},{t:"Monoclinic Plane #2",x:96,y:528},
          {t:"Scarp wall",x:389,y:512},{t:"and footslopes",x:389,y:531},{t:"Lower Surface",x:166,y:630}], lw:1.3, col:"#3a3af8"},
 {title:"GPC for Gully Basin O01", tx:951, ty:374, tsize:17, tlen:197,
  rect:[688,382,1258,632], xm:[0,691,475,1231], ym:[37.5,629.5,52.5,409],
  xTicks:o01XTicks, yTicks:o01YTicks, xf:fmt0, yf:fmt1, ts:11, yLabR:684, xLabY:645,
  xT:[985,658], yT:[651,511], as:12.5, series:o01Series, planes:[],
  labels:[{t:"Check Dam Reservoir",x:696,y:620}], lw:1.3, col:"#4545f5"},
 {title:"GPC for Gully Basin O02", tx:330, ty:730, tsize:17, tlen:202,
  rect:[66,738,634,1053], xm:[0,67,1400,600], ym:[37.5,1045.5,62.5,752.3],
  xTicks:o02XTicks, yTicks:o02YTicks, xf:fmtC, yf:fmt1, ts:10.5, yLabR:58, xLabY:1067,
  xT:[355,1080], yT:[25,902], as:12, series:o02Series, planes:[{p:o02Plane,c:"#f07070"}],
  labels:[{t:"Monoclinic Plane",x:192,y:842}], lw:0.9, col:"#1e1eff"},
 {title:"GPC for Gully Basin O03", tx:958, ty:731, tsize:16.5, tlen:189,
  rect:[697,738,1258,1019], xm:[0,700,1100,1208], ym:[37.5,1014.3,62.5,747.7],
  xTicks:o03XTicks, yTicks:o03YTicks, xf:fmtC, yf:fmt1, ts:10.5, yLabR:692, xLabY:1031,
  xT:[978,1043], yT:[660,886], as:12.5, series:o03Series, planes:[{p:o03Plane,c:"#f07070"}],
  labels:[{t:"Monoclinic Plane",x:754,y:846}], lw:1.1, col:"#3535f8"},
 {title:"GPC for Gully Basin O04", tx:326, ty:1118, tsize:16.5, tlen:187,
  rect:[67,1124,628,1372], xm:[0,68,600,627], ym:[37.5,1342.3,52.5,1147.3],
  xTicks:o04XTicks, yTicks:o04YTicks, xf:fmt0, yf:fmt1, ts:10.5, yLabR:61, xLabY:1385,
  xT:[349,1399], yT:[29,1256], as:12, series:o04Series, planes:[{p:o04Plane,c:"#f07070"}],
  labels:[{t:"Monoclinic Plane",x:152,y:1215}], lw:1.2, col:"#3a3af8"},
 {title:"GPC for Gully Basin O05", tx:962, ty:1115, tsize:19.5, tlen:222,
  rect:[705,1123,1266,1393], xm:[0,706,350,1233], ym:[37.5,1370,50,1143.3],
  xTicks:o05XTicks, yTicks:o05YTicks, xf:fmt0, yf:fmt1, ts:13.5, yLabR:697, xLabY:1410,
  xT:[986,1426], yT:[660,1268], as:14.5, series:o05Series, planes:[], labels:[], lw:1.5, col:"#3f3ff8"}
];

// ---------------- DRAW ----------------
const svg = d3.select("#c");
const W = 1262;
// fragments of the underlying slide visible at the left edge
const bg = svg.append("g");
[[0,0,14,95,"#f6e8cb"],[0,497,13,23,"#f8ead0"],[0,560,13,87,"#d9d9d9"],[0,690,12,40,"#ececec"],
 [0,773,12,44,"#e4e4e4"],[0,860,12,42,"#e4e4e4"],[0,945,12,40,"#e4e4e4"],[0,988,14,452,"#f8ebd3"]]
 .forEach(r=>bg.append("rect").attr("x",r[0]).attr("y",r[1]).attr("width",r[2]).attr("height",r[3]).attr("fill",r[4]));
[["0",460,24,0.45],["d",1163,50,0.32],["n",1225,50,0.3]].forEach(f=>
  bg.append("text").attr("transform",`translate(0.5,${f[1]}) scale(${f[3]},1)`).attr("font-family","DejaVu Sans")
    .attr("font-size",f[2]).attr("fill","#151515").text(f[0]));

const tickFont = "DejaVu Sans, Verdana, sans-serif";
panels.forEach((P,i)=>{
  const g = svg.append("g");
  const [x0,y0,x1,y1] = P.rect;
  const x = d3.scaleLinear().domain([P.xm[0],P.xm[2]]).range([P.xm[1],P.xm[3]]);
  const y = d3.scaleLinear().domain([P.ym[0],P.ym[2]]).range([P.ym[1],P.ym[3]]);
  const cid = "clip"+i;
  g.append("clipPath").attr("id",cid).append("rect").attr("x",x0).attr("y",y0).attr("width",x1-x0).attr("height",y1-y0);

  g.append("rect").attr("x",x0).attr("y",y0).attr("width",x1-x0).attr("height",y1-y0)
    .attr("fill","#fff").attr("stroke","#b4b4b4").attr("stroke-width",1);
  // grid
  const grid = g.append("g").attr("stroke","#b9b9b9").attr("stroke-width",0.8).attr("stroke-dasharray","2,2");
  P.xTicks.forEach(v=>{ const px=x(v); if(px>x0+1 && px<x1-1) grid.append("line").attr("x1",px).attr("x2",px).attr("y1",y0).attr("y2",y1); });
  P.yTicks.forEach(v=>{ const py=y(v); if(py>y0+1 && py<y1-1) grid.append("line").attr("y1",py).attr("y2",py).attr("x1",x0).attr("x2",x1); });
  // axes (offset lines like the source plots)
  g.append("line").attr("x1",x0-3).attr("x2",x0-3).attr("y1",y0).attr("y2",y1).attr("stroke","#a8a8a8").attr("stroke-width",1.2);
  g.append("line").attr("x1",x0).attr("x2",x1).attr("y1",y1+3).attr("y2",y1+3).attr("stroke","#a8a8a8").attr("stroke-width",1.2);
  P.yTicks.forEach(v=>{
    g.append("line").attr("x1",x0-5).attr("x2",x0-3).attr("y1",y(v)).attr("y2",y(v)).attr("stroke","#999");
    g.append("text").attr("x",P.yLabR).attr("y",y(v)).attr("text-anchor","end").attr("dominant-baseline","central")
      .attr("font-family",tickFont).attr("font-size",P.ts).attr("fill","#7a7a7a").text(P.yf(v));
  });
  P.xTicks.forEach(v=>{
    g.append("line").attr("x1",x(v)).attr("x2",x(v)).attr("y1",y1+3).attr("y2",y1+5).attr("stroke","#999");
    const t = g.append("text").attr("x",x(v)).attr("y",P.xLabY).attr("text-anchor","middle").attr("dominant-baseline","central")
      .attr("font-family",tickFont).attr("font-size",P.ts).attr("fill","#7a7a7a").text(P.xf(v));
    const w = t.node().getComputedTextLength();
    if (x(v) + w/2 > W - 1) t.attr("text-anchor","end").attr("x", W - 1);
  });
  g.append("text").attr("x",P.xT[0]).attr("y",P.xT[1]).attr("text-anchor","middle").attr("dominant-baseline","central")
    .attr("font-family",tickFont).attr("font-size",P.as).attr("fill","#7a7a7a").text("Distance To Mouth (m)");
  g.append("text").attr("transform",`translate(${P.yT[0]},${P.yT[1]}) rotate(-90)`).attr("text-anchor","middle").attr("dominant-baseline","central")
    .attr("font-family",tickFont).attr("font-size",P.as).attr("fill","#7a7a7a").text("Elevation (m)");
  // title
  g.append("text").attr("x",P.tx).attr("y",P.ty).attr("text-anchor","middle")
    .attr("font-family","Lato, 'Open Sans', sans-serif").attr("font-weight",700).attr("font-size",P.tsize)
    .attr("textLength",P.tlen).attr("lengthAdjust","spacingAndGlyphs").attr("fill","#111").text(P.title);
  // data
  const line = d3.line().x(d=>x(d[0])).y(d=>y(d[1]));
  const data = g.append("g").attr("clip-path",`url(#${cid})`);
  data.selectAll("path.s").data(P.series).enter().append("path").attr("class","s")
    .attr("d",line).attr("fill","none").attr("stroke",P.col).attr("stroke-width",P.lw)
    .attr("stroke-linejoin","round").attr("stroke-opacity",0.9);
  P.planes.forEach(pl=>data.append("path").attr("d",line(pl.p)).attr("fill","none").attr("stroke",pl.c).attr("stroke-width",1.1));
  // annotation labels
  P.labels.forEach(l=>g.append("text").attr("x",l.x).attr("y",l.y).attr("dominant-baseline","central")
    .attr("font-family","'Liberation Sans', Arial, sans-serif").attr("font-size",16).attr("fill","#111").text(l.t));
});
</script>
</body></html>
